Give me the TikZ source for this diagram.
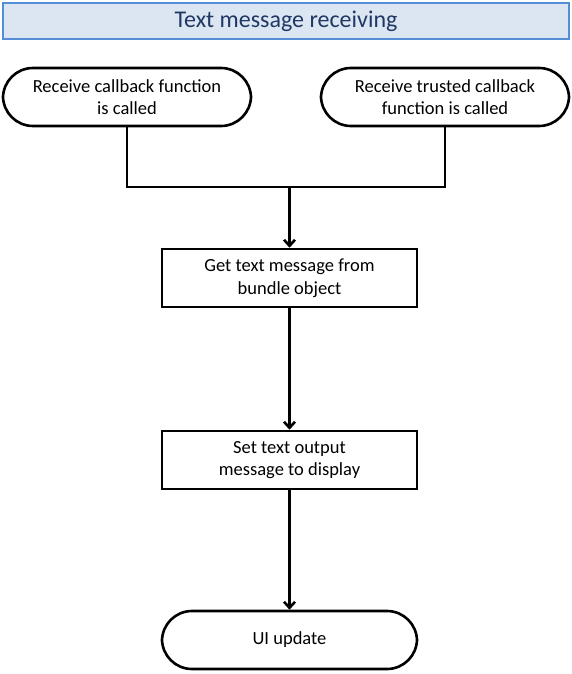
\documentclass[tikz,border=0pt]{standalone}
\usepackage{fontspec}
\setmainfont{Carlito}
\usepackage{tikz}
\usetikzlibrary{arrows.meta,positioning}
\definecolor{titlefill}{RGB}{220,230,242}
\definecolor{titleline}{RGB}{85,142,213}
\definecolor{titletext}{RGB}{31,56,100}
\tikzset{edge/.style = {-{Straight Barb[length=6pt,width=11pt]}, line width=2.6pt}}
\tikzset{link/.style = {line width=2.6pt}}
\tikzset{terminal/.style = {draw, line width=2.6pt, rounded corners=30pt, minimum width=248pt, minimum height=58pt, align=center, font=\fontsize{18.5}{22.5}\selectfont}}
\tikzset{stepbox/.style = {draw, line width=2.6pt, minimum width=255pt, minimum height=58pt, align=center, font=\fontsize{18.5}{22.5}\selectfont}}

\begin{document}
\begin{tikzpicture}[x=1pt,y=1pt]
                    \useasboundingbox (0,0) rectangle (572,-674);
                    \node [draw=titleline, fill=titlefill, line width=2.2pt, minimum width=566pt, minimum height=36pt, text=titletext, font=\fontsize{24}{26}\selectfont] (title) at (286,-21) {Text message receiving};

                    \node [terminal] (recv) at (127,-97) {Receive callback function\\is called};
                    \node [terminal] (trusted) at (445,-97) {Receive trusted callback\\function is called};

                    \node [stepbox] (getmsg) at (289.5,-278) {Get text message from\\bundle object};
                    \node [stepbox] (setout) at (289.5,-460) {Set text output\\message to display};
                    \node [terminal, minimum width=255pt] (update) at (289.5,-640) {UI update};

                    % Both callbacks meet here
                    \coordinate (join) at (289.5,-187);
                    \draw [link] (recv.south) |- (join) -| (trusted.south);

                    % Join to first step
                    \draw [edge] (join) -- (getmsg);

                    % Steps down to the update
                    \draw [edge] (getmsg) -- (setout);
                    \draw [edge] (setout) -- (update);
                 \end{tikzpicture}
\end{document}
